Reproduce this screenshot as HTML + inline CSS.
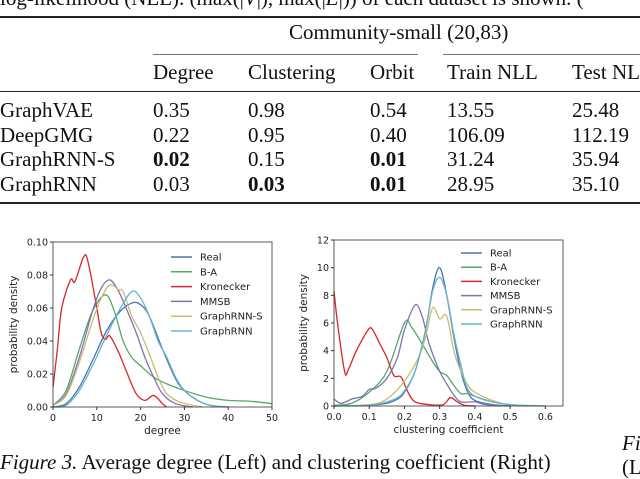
<!DOCTYPE html>
<html><head><meta charset="utf-8"><style>
body{margin:0;width:640px;height:467px;overflow:hidden;background:#fff;position:relative;font-family:"Liberation Serif",serif;color:#111}
.t{position:absolute;font-size:21px;line-height:24px;white-space:nowrap}
.b{font-weight:bold}
.hl{position:absolute;background:#222}
svg{position:absolute;left:0;top:0}
svg text{font-family:"DejaVu Sans","Liberation Sans",sans-serif;fill:#222}
</style></head><body>
<div class="t" style="left:0;top:-14px">log-likelihood (NLL). (max(|<i>V</i>|), max(|<i>E</i>|)) of each dataset is shown. (</div>
<div class="hl" style="left:0;top:16px;width:640px;height:2px"></div>
<div class="t" style="left:289px;top:20px">Community-small (20,83)</div>
<div class="hl" style="left:153px;top:54px;width:265px;height:1px;background:#777"></div>
<div class="hl" style="left:443px;top:54px;width:197px;height:1px;background:#777"></div>
<div id="tbl"></div>
<div class="hl" style="left:0;top:91px;width:640px;height:1px"></div>
<div class="hl" style="left:0;top:202px;width:640px;height:2px"></div>
<svg id="chart" width="640" height="467"></svg>
<div class="t" style="left:0;top:450px"><i>Figure 3.</i> Average degree (Left) and clustering coefficient (Right)</div>
<div class="t" style="left:622px;top:431px"><i>Fi</i></div>
<div class="t" style="left:622px;top:455px">(L</div>
<script>
const cols=[["",0],["Degree",153],["Clustering",248],["Orbit",370],["Train NLL",447],["Test NLL",572]];
const rows=[["GraphVAE","0.35","0.98","0.54","13.55","25.48"],["DeepGMG","0.22","0.95","0.40","106.09","112.19"],["GraphRNN-S","*0.02","0.15","*0.01","31.24","35.94"],["GraphRNN","0.03","*0.03","*0.01","28.95","35.10"]];
const tbl=document.getElementById('tbl');
cols.forEach((c,i)=>{if(!c[0])return;const d=document.createElement('div');d.className='t';d.style.left=c[1]+'px';d.style.top='60px';d.textContent=c[0];


tbl.appendChild(d);});
rows.forEach((r,ri)=>r.forEach((v,ci)=>{const d=document.createElement('div');d.className='t';let s=v;if(s[0]=='*'){d.classList.add('b');s=s.slice(1);}
d.style.left=cols[ci][1]+'px';d.style.top=(98+ri*24.5)+'px';d.textContent=s;


tbl.appendChild(d);}));

const seriesNames=["Real","B-A","Kronecker","MMSB","GraphRNN-S","GraphRNN"];
const colors=["#4c72b0","#55a868","#d62728","#8172b2","#ccb974","#64b5cd"];
const degReal=[[0,0],[3,0.002],[6,0.012],[9,0.028],[12,0.045],[15,0.057],[18,0.063],[20,0.062],[22,0.055],[25,0.035],[28,0.017],[30,0.01],[33,0.004],[36,0.001],[40,0]];
const degBA=[[0,0.001],[3,0.01],[6,0.035],[9,0.058],[12,0.068],[14,0.058],[16,0.04],[18,0.03],[20,0.025],[23,0.018],[26,0.014],[30,0.01],[35,0.006],[40,0.004],[45,0.0035],[50,0.002]];
const degKron=[[0,0.012],[1,0.035],[2,0.06],[4,0.077],[5,0.076],[7,0.091],[8,0.088],[10,0.06],[11,0.045],[12,0.041],[13,0.043],[15,0.033],[17,0.02],[19,0.008],[21,0.004],[23,0.007],[25,0.002],[26,0]];
const degMMSB=[[0,0.001],[3,0.008],[6,0.03],[9,0.058],[11,0.072],[13,0.077],[15,0.07],[17,0.058],[19,0.045],[21,0.03],[23,0.018],[25,0.008],[28,0.002],[32,0]];
const degRNNS=[[0,0.001],[3,0.007],[6,0.027],[9,0.052],[11,0.066],[13,0.074],[15,0.071],[16,0.07],[18,0.055],[20,0.045],[22,0.032],[24,0.018],[26,0.008],[29,0.003],[34,0]];
const degRNN=[[0,0],[3,0.001],[6,0.01],[9,0.025],[12,0.042],[15,0.058],[18,0.07],[20,0.066],[22,0.055],[24,0.04],[26,0.03],[28,0.018],[30,0.01],[33,0.004],[36,0.001],[40,0]];
const degXTicks=[0,10,20,30,40,50];
const degYTicks=[0,0.02,0.04,0.06,0.08,0.10];
const clReal=[[0,0],[0.1,0.05],[0.15,0.2],[0.18,0.5],[0.2,1],[0.23,2.5],[0.26,5.5],[0.28,8.5],[0.3,10],[0.32,8],[0.34,5],[0.36,2.5],[0.38,1],[0.4,0.4],[0.45,0.1],[0.5,0]];
const clBA=[[0,0.05],[0.05,0.2],[0.1,1],[0.15,2.5],[0.2,6],[0.22,5.7],[0.25,4.5],[0.28,3.2],[0.3,2.5],[0.32,2.2],[0.34,1.5],[0.36,0.9],[0.38,0.9],[0.4,0.7],[0.45,0.3],[0.5,0.1],[0.55,0]];
const clKron=[[0,8.3],[0.01,6],[0.03,2.5],[0.04,2.6],[0.06,3.8],[0.08,4.8],[0.1,5.6],[0.11,5.5],[0.13,4.5],[0.15,3.5],[0.17,2.2],[0.19,2.1],[0.21,1],[0.23,0.3],[0.27,0.1],[0.31,0.1],[0.33,0.6],[0.35,0.3],[0.37,0.05],[0.4,0]];
const clMMSB=[[0,0.5],[0.02,0.2],[0.05,0.5],[0.08,0.7],[0.1,1.2],[0.12,1.3],[0.15,2],[0.18,3.5],[0.2,5.5],[0.23,7.3],[0.25,6.5],[0.27,4.5],[0.3,2.5],[0.32,1.6],[0.34,0.8],[0.36,0.3],[0.4,0.3],[0.43,0.1],[0.5,0]];
const clRNNS=[[0,0],[0.1,0.1],[0.15,0.5],[0.2,1.8],[0.24,3.5],[0.26,5],[0.28,7.1],[0.3,6.3],[0.32,6.5],[0.34,4],[0.36,2.5],[0.38,1.5],[0.4,1],[0.45,0.4],[0.5,0.1],[0.6,0]];
const clRNN=[[0,0],[0.1,0.05],[0.15,0.3],[0.18,0.6],[0.2,1.1],[0.23,2.5],[0.26,5.5],[0.28,8.3],[0.3,9.3],[0.32,8],[0.34,5.2],[0.36,3],[0.38,1.2],[0.42,0.5],[0.5,0.1],[0.6,0]];
const clXTicks=[0,0.1,0.2,0.3,0.4,0.5,0.6];
const clYTicks=[0,2,4,6,8,10,12];

const NS="http://www.w3.org/2000/svg",svg=document.getElementById('chart');
function el(t,a,p){const e=document.createElementNS(NS,t);for(const k in a)e.setAttribute(k,a[k]);(p||svg).appendChild(e);return e;}
function smooth(pts){let d=`M${pts[0][0]},${pts[0][1]}`;for(let i=0;i<pts.length-1;i++){const p0=pts[i-1]||pts[i],p1=pts[i],p2=pts[i+1],p3=pts[i+2]||p2;
d+=` C${p1[0]+(p2[0]-p0[0])/6},${p1[1]+(p2[1]-p0[1])/6} ${p2[0]-(p3[0]-p1[0])/6},${p2[1]-(p3[1]-p1[1])/6} ${p2[0]},${p2[1]}`;}return d;}
function chart(cfg){
 const {x0,x1,y0,y1,xmax,ymax,series,xt,yt,xfmt,yfmt,xlabel,lx,ly,name}=cfg;
 const g=el('g',{});
 
 
 const X=v=>x0+v/xmax*(x1-x0),Y=v=>y1-v/ymax*(y1-y0);
 series.forEach((s,i)=>{const p=el('path',{d:smooth(s.map(q=>[X(q[0]),Y(Math.max(0,q[1]))])),fill:'none',stroke:colors[i],'stroke-width':1.3},g);
  
  });
 el('rect',{x:x0,y:y0,width:x1-x0,height:y1-y0,fill:'none',stroke:'#333','stroke-width':0.8},g);
 xt.forEach(v=>{el('line',{x1:X(v),x2:X(v),y1:y1,y2:y1+3,stroke:'#333'},g);const t=el('text',{x:X(v),y:y1+14,'font-size':9.5,'text-anchor':'middle'},g);t.textContent=xfmt(v);
  
  });
 yt.forEach(v=>{el('line',{x1:x0-3,x2:x0,y1:Y(v),y2:Y(v),stroke:'#333'},g);const t=el('text',{x:x0-5,y:Y(v)+3.5,'font-size':9.5,'text-anchor':'end'},g);t.textContent=yfmt(v);
  
  });
 const xl=el('text',{x:(x0+x1)/2,y:y1+27,'font-size':10.5,'text-anchor':'middle'},g);xl.textContent=xlabel;
 
 
 const yl=el('text',{x:0,y:0,'font-size':10.5,'text-anchor':'middle',transform:`translate(${cfg.ylx},${(y0+y1)/2}) rotate(-90)`},g);yl.textContent='probability density';
 
 
 seriesNames.forEach((n,i)=>{const yy=ly+i*cfg.ls;el('line',{x1:lx,x2:lx+21,y1:yy,y2:yy,stroke:colors[i],'stroke-width':1.5},g);
  const t=el('text',{x:lx+29,y:yy+3.5,'font-size':10},g);t.textContent=n;
  
  });
}
chart({name:'degree-chart',x0:53,x1:272,y0:242,y1:407,xmax:50,ymax:0.10,series:[degReal,degBA,degKron,degMMSB,degRNNS,degRNN],xt:degXTicks,yt:degYTicks,xfmt:v=>v,yfmt:v=>v.toFixed(2),xlabel:'degree',ylx:17,lx:171,ly:257,ls:14.8});
chart({name:'clustering-chart',x0:334,x1:563,y0:240,y1:406,xmax:0.65,ymax:12,series:[clReal,clBA,clKron,clMMSB,clRNNS,clRNN],xt:clXTicks,yt:clYTicks,xfmt:v=>v.toFixed(1),yfmt:v=>v,xlabel:'clustering coefficient',ylx:307,lx:461,ly:253,ls:14.2});
</script>
</body></html>
